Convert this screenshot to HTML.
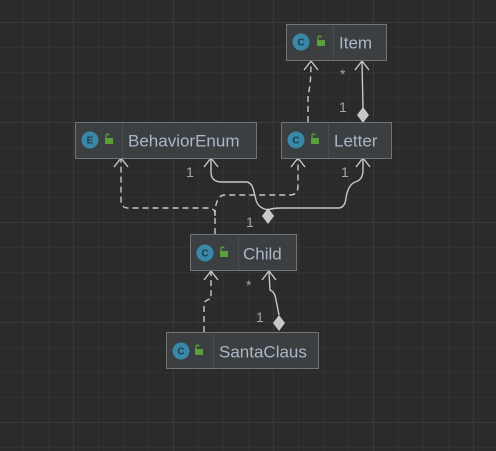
<!DOCTYPE html>
<html><head><meta charset="utf-8"><style>
html,body{margin:0;padding:0;background:#2b2b2b;width:496px;height:451px;overflow:hidden}
svg{display:block}
text{font-family:"Liberation Sans","DejaVu Sans",sans-serif}
</style></head><body>
<svg width="496" height="451" viewBox="0 0 496 451" xmlns="http://www.w3.org/2000/svg">
<defs>
<pattern id="minor" x="-1" y="-2" width="25" height="25" patternUnits="userSpaceOnUse">
<path d="M24.5 0V25M0 24.5H25" stroke="#323232" stroke-width="1" fill="none"/>
</pattern>
<pattern id="major" x="-26" y="-77" width="100" height="100" patternUnits="userSpaceOnUse">
<path d="M99.5 0V100M0 99.5H100" stroke="#393939" stroke-width="1" fill="none"/>
</pattern>
</defs>
<rect width="496" height="451" fill="#2b2b2b"/>
<rect width="496" height="451" fill="url(#minor)"/>
<rect width="496" height="451" fill="url(#major)"/>

<g fill="none" stroke="#c8c8c8" stroke-width="1.4">
<g stroke-dasharray="6,4">
<path d="M308 122 L308 95 Q311 85 311 62"/>
<path d="M215 234 L215 214 Q215 208 208 208 L128 208 Q121 208 121 200 L121 159"/>
<path d="M215 216 Q215 195 225 195 L290 195 Q298 195 298 186 L298 159"/>
<path d="M204 332 L204 305 Q204 300 211 299 L211 272"/>
</g>
<path d="M363 108 L362 62"/>
<path d="M211 159 L211 172 Q211 182 222 182 L246 182 Q252 182 254 192 L256 200 Q258 208 268 210"/>
<path d="M268 210 Q272 208 282 208 L338 208 Q345 208 346 198 Q348 185 355 182 Q363 180 363 170 L363 159"/>
<path d="M279 315 L276 300 Q275 292 270 290 L269 272"/>
<path d="M304 70 L311 61 L318 70"/>
<path d="M355 70 L362 61 L369 70"/>
<path d="M114 167 L121 158 L128 167"/>
<path d="M204 167 L211 158 L218 167"/>
<path d="M291 167 L298 158 L305 167"/>
<path d="M356 167 L363 158 L370 167"/>
<path d="M204 280 L211 271 L218 280"/>
<path d="M262 280 L269 271 L276 280"/>
</g>
<g fill="#c8c8c8">
<path d="M363 107 L369 115 L363 123 L357 115Z"/>
<path d="M268 208 L274 216 L268 224 L262 216Z"/>
<path d="M279 315 L285 323 L279 331 L273 323Z"/>
</g>
<g fill="#a0a8b0" font-size="14">
<text x="340" y="79">*</text>
<text x="339" y="112">1</text>
<text x="186" y="177">1</text>
<text x="341" y="177">1</text>
<text x="246" y="227">1</text>
<text x="246" y="290">*</text>
<text x="256" y="322">1</text>
</g>

<g stroke="#737373" stroke-width="1" fill="#3c3f41">
<rect x="286.5" y="24.5" width="100" height="36"/>
<rect x="75.5" y="122.5" width="181" height="36"/>
<rect x="281.5" y="122.5" width="110" height="36"/>
<rect x="190.5" y="234.5" width="106" height="36"/>
<rect x="166.5" y="332.5" width="152" height="36"/>
</g>
<g stroke="#4a4c4e" stroke-width="1">
<path d="M333.5 25V60M122.5 123V158M328.5 123V158M238.5 235V270M213.5 333V368"/>
</g>
<g fill="#3a88a8">
<circle cx="301" cy="42" r="8.5"/>
<circle cx="90" cy="140" r="8.5"/>
<circle cx="296" cy="140" r="8.5"/>
<circle cx="205" cy="253" r="8.5"/>
<circle cx="181" cy="351" r="8.5"/>
</g>
<g fill="#1e3a48" font-size="10" font-weight="bold" text-anchor="middle">
<text x="301" y="45.5">C</text>
<text x="90" y="143.5">E</text>
<text x="296" y="143.5">C</text>
<text x="205" y="256.5">C</text>
<text x="181" y="354.5">C</text>
</g>
<g fill="#59a03c" stroke="#59a03c">
<g transform="translate(316,36)"><rect x="1" y="4" width="8" height="6" stroke="none"/><path d="M2 4V1.5Q2 0 3.5 0Q5 0 5 1.5" fill="none" stroke-width="1.3"/></g>
<g transform="translate(104,134)"><rect x="1" y="4" width="8" height="6" stroke="none"/><path d="M2 4V1.5Q2 0 3.5 0Q5 0 5 1.5" fill="none" stroke-width="1.3"/></g>
<g transform="translate(310,134)"><rect x="1" y="4" width="8" height="6" stroke="none"/><path d="M2 4V1.5Q2 0 3.5 0Q5 0 5 1.5" fill="none" stroke-width="1.3"/></g>
<g transform="translate(219,247)"><rect x="1" y="4" width="8" height="6" stroke="none"/><path d="M2 4V1.5Q2 0 3.5 0Q5 0 5 1.5" fill="none" stroke-width="1.3"/></g>
<g transform="translate(194,345)"><rect x="1" y="4" width="8" height="6" stroke="none"/><path d="M2 4V1.5Q2 0 3.5 0Q5 0 5 1.5" fill="none" stroke-width="1.3"/></g>
</g>
<g fill="#a9b7c6" font-size="17">
<text x="339" y="48.5">Item</text>
<text x="128" y="146.5">BehaviorEnum</text>
<text x="334" y="146.5">Letter</text>
<text x="243" y="259.5">Child</text>
<text x="219" y="357.5">SantaClaus</text>
</g>
</svg>
</body></html>
